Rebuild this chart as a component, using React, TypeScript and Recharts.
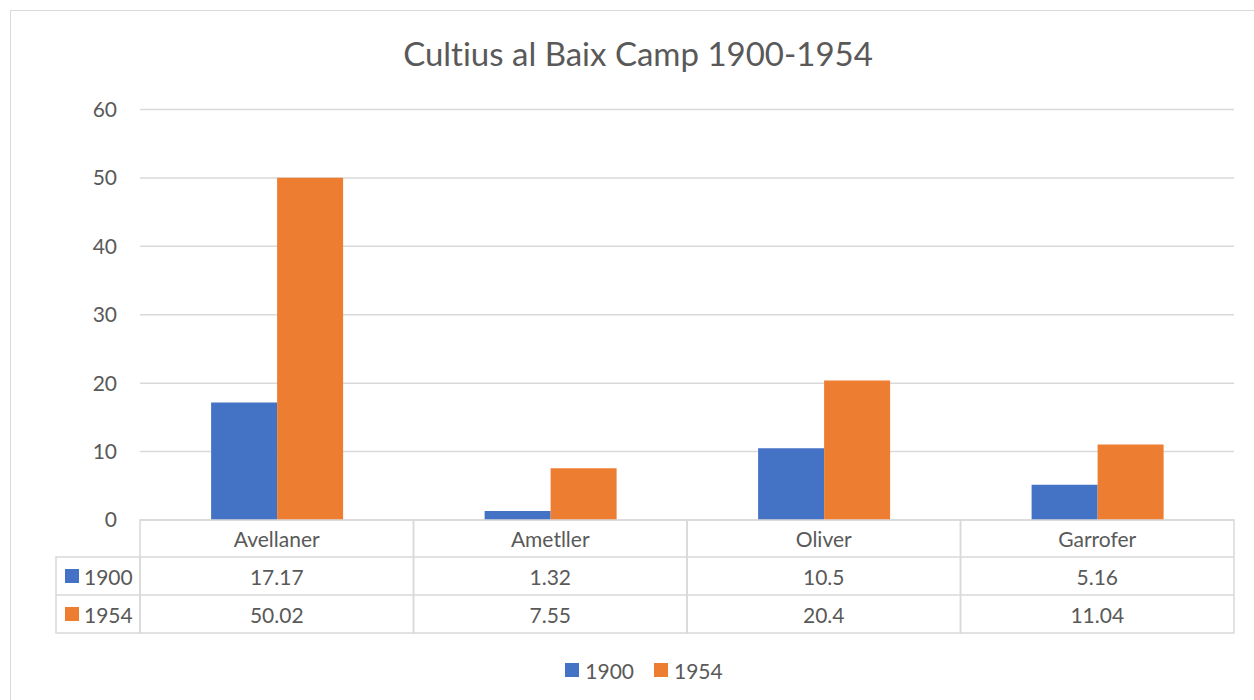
import { BarChart, Bar, XAxis, YAxis, CartesianGrid, Legend } from "recharts";

const categories = ["Avellaner", "Ametller", "Oliver", "Garrofer"];
const values1900 = [17.17, 1.32, 10.5, 5.16];
const values1954 = [50.02, 7.55, 20.4, 11.04];
const seriesNames = ["1900", "1954"];
const yTicks = [0, 10, 20, 30, 40, 50, 60];

const colors = ["#4472C4", "#ED7D31"];
const TEXT = "#595959";
const LINE = "#d9d9d9";
const FONT = "Lato, 'Open Sans', sans-serif";

const data = categories.map((name, i) => ({
  name,
  [seriesNames[0]]: values1900[i],
  [seriesNames[1]]: values1954[i],
}));
const seriesValues = [values1900, values1954];

const PLOT_LEFT = 140;
const PLOT_RIGHT = 1234;
const BAND = (PLOT_RIGHT - PLOT_LEFT) / categories.length;
const HEAD_H = 37;
const ROW_H = 38;
const TABLE_LEFT = 56;

// x axis drawn as the data table under the plot
function TableTick(props: any) {
  const { x, y, index, payload } = props;
  const left = x - BAND / 2;
  return (
    <g fontFamily={FONT} fontSize={21} fill={TEXT}>
      <rect x={left} y={y} width={BAND} height={HEAD_H + 2 * ROW_H} fill="none" stroke={LINE} strokeWidth={1.5} />
      <line x1={left} x2={left + BAND} y1={y + HEAD_H} y2={y + HEAD_H} stroke={LINE} strokeWidth={1.5} />
      <line x1={left} x2={left + BAND} y1={y + HEAD_H + ROW_H} y2={y + HEAD_H + ROW_H} stroke={LINE} strokeWidth={1.5} />
      <text x={x} y={y + HEAD_H / 2} textAnchor="middle" dominantBaseline="central" fill={TEXT}>
        {payload.value}
      </text>
      {seriesValues.map((vals, r) => (
        <text
          key={r}
          x={x}
          y={y + HEAD_H + ROW_H * r + ROW_H / 2}
          textAnchor="middle"
          dominantBaseline="central"
          fill={TEXT}
        >
          {String(vals[index])}
        </text>
      ))}
      {index === 0 && (
        <g>
          <rect x={TABLE_LEFT} y={y + HEAD_H} width={left - TABLE_LEFT} height={2 * ROW_H} fill="none" stroke={LINE} strokeWidth={1.5} />
          <line x1={TABLE_LEFT} x2={left} y1={y + HEAD_H + ROW_H} y2={y + HEAD_H + ROW_H} stroke={LINE} strokeWidth={1.5} />
          {seriesNames.map((n, r) => (
            <g key={n}>
              <rect x={65} y={y + HEAD_H + ROW_H * r + ROW_H / 2 - 7} width={14} height={14} fill={colors[r]} />
              <text x={84} y={y + HEAD_H + ROW_H * r + ROW_H / 2} dominantBaseline="central" fill={TEXT}>
                {n}
              </text>
            </g>
          ))}
        </g>
      )}
    </g>
  );
}

const renderLegend = () => (
  <div
    style={{
      display: "flex",
      justifyContent: "center",
      alignItems: "center",
      height: 24,
      fontFamily: FONT,
      fontSize: 21,
      color: TEXT,
    }}
  >
    {seriesNames.map((n, i) => (
      <span key={n} style={{ display: "flex", alignItems: "center", marginRight: i === 0 ? 20 : 0 }}>
        <span style={{ width: 14, height: 14, background: colors[i], marginRight: 6, display: "inline-block" }} />
        {n}
      </span>
    ))}
  </div>
);

export default function App() {
  return (
    <div style={{ position: "absolute", left: 0, top: 0, width: 1254, height: 700, overflow: "hidden", background: "#fff" }}>
      <div
        style={{
          position: "absolute",
          left: 10,
          top: 10,
          width: 1300,
          height: 800,
          border: "1.5px solid #d9d9d9",
        }}
      />
      <div
        style={{
          position: "absolute",
          left: 0,
          top: 37,
          width: 1276,
          textAlign: "center",
          fontFamily: FONT,
          fontSize: 33,
          lineHeight: "33px",
          color: TEXT,
          fontVariantLigatures: "none",
        }}
      >
        Cultius al Baix Camp 1900-1954
      </div>
      <BarChart
        width={1254}
        height={700}
        data={data}
        margin={{ top: 109.5, right: 20, left: 40, bottom: 18 }}
        barCategoryGap="26%"
        barGap={0}
      >
        <CartesianGrid vertical={false} stroke={LINE} strokeWidth={1.5} />
        <YAxis
          width={100}
          domain={[0, 60]}
          ticks={yTicks}
          axisLine={false}
          tickLine={false}
          tickSize={0}
          tickMargin={23}
          tick={{ fontSize: 21, fill: TEXT, fontFamily: FONT }}
        />
        <XAxis
          dataKey="name"
          height={138}
          axisLine={false}
          tickLine={false}
          tickSize={0}
          tickMargin={0}
          interval={0}
          tick={<TableTick />}
        />
        <Legend verticalAlign="bottom" content={renderLegend} wrapperStyle={{ left: 0, width: 1288 }} />
        {seriesNames.map((n, i) => (
          <Bar key={n} dataKey={n} fill={colors[i]} isAnimationActive={false} />
        ))}
      </BarChart>
    </div>
  );
}
